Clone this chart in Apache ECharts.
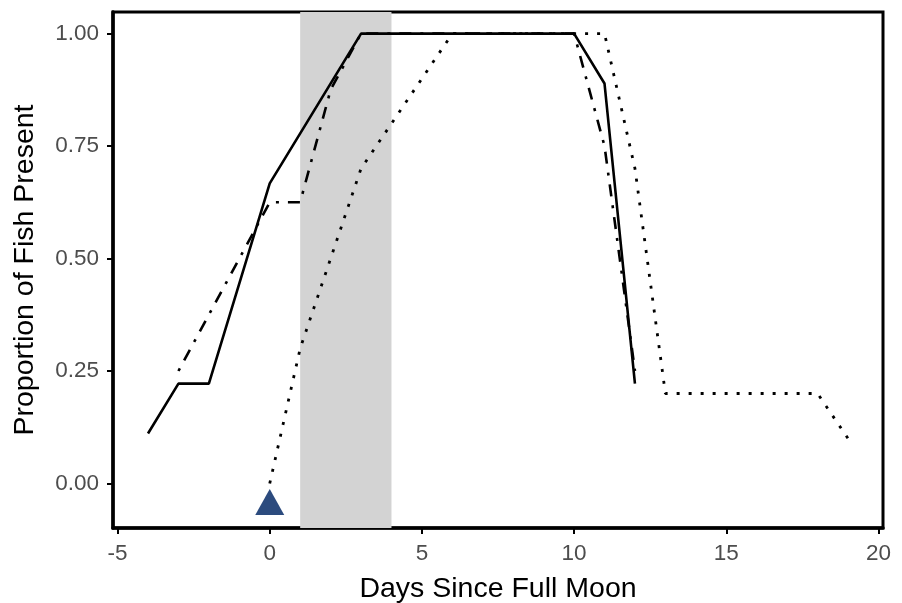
<!DOCTYPE html>
<html>
<head>
<meta charset="utf-8">
<script src="https://cdn.jsdelivr.net/npm/echarts@6/dist/echarts.min.js"></script>
<style>
html,body{margin:0;padding:0;background:#fff;}
#chart{width:902px;height:603px;}
</style>
</head>
<body>
<div id="chart"></div>
<script>
// ---- data ----
const solidDays = [-4, -3, -2, 0, 3, 10, 11, 12];
const solidProp = [0.111, 0.222, 0.222, 0.667, 1.0, 1.0, 0.889, 0.222];

const dashDotDays = [-3, 0, 1, 2, 3, 10, 11, 12];
const dashDotProp = [0.25, 0.625, 0.625, 0.875, 1.0, 1.0, 0.75, 0.25];

const dottedDays = [0, 1, 2, 3, 4, 6, 11, 12, 13, 18, 19];
const dottedProp = [0.0, 0.3, 0.5, 0.7, 0.8, 1.0, 1.0, 0.7, 0.2, 0.2, 0.1];

const fullMoonDay = [0];
const fullMoonY = [-0.05];

const shadeStart = 1;
const shadeEnd = 4;

const xTicks = [-5, 0, 5, 10, 15, 20];
const yTicks = [0, 0.25, 0.5, 0.75, 1.0];

const xTitle = 'Days Since Full Moon';
const yTitle = 'Proportion of Fish Present';

const pairs = (xs, ys) => xs.map((x, i) => [x, ys[i]]);

const FONT = "'Liberation Sans', Arial, Helvetica, sans-serif";

const chart = echarts.init(document.getElementById('chart'), null, {renderer: 'canvas'});

const lineBase = {
  type: 'line',
  showSymbol: false,
  symbol: 'none',
  silent: true,
  z: 2,
  animation: false
};

chart.setOption({
  animation: false,
  backgroundColor: '#ffffff',
  grid: {
    left: 113, right: 19, top: 12, bottom: 75,
    containLabel: false,
    outerBoundsMode: 'none',
    show: true,
    borderColor: '#000',
    borderWidth: 3,
    backgroundColor: 'transparent'
  },
  xAxis: {
    type: 'value',
    min: -5.15,
    max: 20.15,
    name: xTitle,
    nameLocation: 'middle',
    nameGap: 47,
    nameTextStyle: {fontSize: 28.5, color: '#000', fontFamily: FONT},
    axisLine: {show: true, onZero: false, lineStyle: {color: '#000', width: 3.5}},
    axisTick: {show: true, length: 6, customValues: xTicks, lineStyle: {color: '#000', width: 2}},
    axisLabel: {show: true, customValues: xTicks, fontSize: 22.5, color: '#4d4d4d', fontFamily: FONT, margin: 14},
    splitLine: {show: false}
  },
  yAxis: {
    type: 'value',
    min: -0.099,
    max: 1.048,
    name: yTitle,
    nameLocation: 'middle',
    nameGap: 73,
    nameTextStyle: {fontSize: 28.5, color: '#000', fontFamily: FONT},
    axisLine: {show: true, onZero: false, lineStyle: {color: '#000', width: 3.5}},
    axisTick: {show: true, length: 6, customValues: yTicks, lineStyle: {color: '#000', width: 2}},
    axisLabel: {show: true, customValues: yTicks, fontSize: 22.5, color: '#4d4d4d', fontFamily: FONT, margin: 14,
      formatter: v => Number(v).toFixed(2)},
    splitLine: {show: false}
  },
  series: [
    Object.assign({}, lineBase, {
      name: 'solid',
      data: pairs(solidDays, solidProp),
      lineStyle: {color: '#000', width: 2.6, type: 'solid'},
      markArea: {
        silent: true,
        z: 1,
        itemStyle: {color: '#d3d3d3'},
        data: [[{xAxis: shadeStart}, {xAxis: shadeEnd}]]
      }
    }),
    Object.assign({}, lineBase, {
      name: 'dashdot',
      data: pairs(dashDotDays, dashDotProp),
      lineStyle: {color: '#000', width: 2.6, type: [3, 9, 12, 9], cap: 'butt'}
    }),
    Object.assign({}, lineBase, {
      name: 'dotted',
      data: pairs(dottedDays, dottedProp),
      lineStyle: {color: '#000', width: 2.8, type: [3, 9], cap: 'butt'}
    }),
    {
      type: 'scatter',
      name: 'full moon',
      data: pairs(fullMoonDay, fullMoonY),
      symbol: 'triangle',
      symbolSize: [29, 26],
      symbolOffset: [0, -4],
      itemStyle: {color: '#2c4b7e', opacity: 1},
      silent: true,
      z: 3
    }
  ]
});
</script>
</body>
</html>
